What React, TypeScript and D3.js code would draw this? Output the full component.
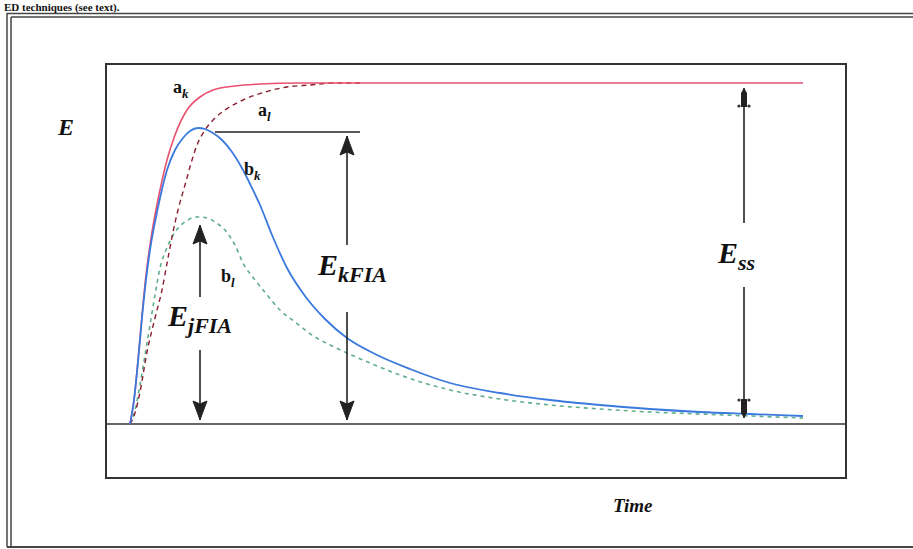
import React from "react";
import * as d3 from "d3";

// time (arbitrary units, 0 = injection) and response E (arbitrary units, Ess = 341)
const akT = [0, 4, 8, 12, 16, 20, 25, 30, 37, 45, 57, 70, 83, 105, 130, 170, 220, 320, 470, 673];
const akE = [0, 24, 64, 109, 149, 179, 209, 234, 264, 289, 314, 327, 334, 338, 340, 341, 341, 341, 341, 341];

const alT = [0, 5, 10, 17, 25, 32, 38, 43, 48, 55, 62, 67, 75, 83, 98, 113, 135, 157, 180, 203, 230];
const alE = [0, 11, 32, 72, 106, 134, 166, 192, 214, 239, 264, 279, 294, 304, 316, 324, 332, 337, 339, 341, 341];

const bkT = [0, 4, 8, 12, 16, 20, 25, 30, 37, 45, 53, 60, 68, 75, 83, 92, 102, 113, 122, 130, 142, 157, 175, 195, 217, 245, 280, 320, 370, 420, 470, 520, 570, 620, 673];
const bkE = [0, 24, 62, 106, 144, 174, 202, 226, 254, 274, 286, 293, 296, 295, 291, 284, 272, 254, 236, 219, 189, 156, 128, 105, 86, 70, 55, 41, 31, 24, 19, 15, 12, 10, 8];

const blT = [0, 5, 10, 15, 20, 25, 30, 36, 42, 50, 58, 65, 70, 77, 85, 95, 105, 113, 125, 138, 150, 165, 182, 200, 217, 240, 270, 320, 370, 420, 470, 520, 570, 620, 673];
const blE = [0, 14, 39, 69, 99, 129, 156, 174, 187, 198, 204, 207, 207, 206, 202, 194, 179, 161, 144, 128, 114, 102, 89, 79, 71, 61, 49, 34, 25, 19, 15, 12, 10, 8, 6];

const E_SS = 341;
const X_DOMAIN = [-24, 716];

const W = 913;
const H = 549;

const x = d3.scaleLinear().domain(X_DOMAIN).range([106, 846]);
const y = d3.scaleLinear().domain([0, E_SS]).range([424, 83]);

const line = d3
  .line<[number, number]>()
  .x((d) => x(d[0]))
  .y((d) => y(d[1]))
  .curve(d3.curveMonotoneX);

const zip = (a: number[], b: number[]) => a.map((v, i) => [v, b[i]] as [number, number]);

const FONT = "'Liberation Serif', 'DejaVu Serif', serif";

function BellHead({ cx, tip, dir }: { cx: number; tip: number; dir: 1 | -1 }) {
  const s = dir === 1 ? 1 : -1;
  const p = (dx: number, dy: number) => `${cx + dx},${tip + s * dy}`;
  const d = `M${p(0, 0)} L${p(-2.5, 7)} L${p(-7, 19)} L${p(0, 16)} L${p(7, 19)} L${p(2.5, 7)} Z`;
  return <path d={d} fill="#222" stroke="#222" strokeWidth={1} />;
}

function NarrowHead({ cx, tip, dir }: { cx: number; tip: number; dir: 1 | -1 }) {
  const s = dir === 1 ? 1 : -1;
  const p = (dx: number, dy: number) => `${cx + dx},${tip + s * dy}`;
  const d = `M${p(0, 0)} L${p(-3, 5)} L${p(-3, 19)} L${p(3, 19)} L${p(3, 5)} Z`;
  return (
    <g>
      <path d={d} fill="#222" />
      <circle cx={cx - 5} cy={tip + s * 18} r={1.6} fill="#333" />
      <circle cx={cx + 5} cy={tip + s * 18} r={1.6} fill="#333" />
    </g>
  );
}

function DoubleArrow({
  t,
  top,
  bottom,
  gapTop,
  gapBottom,
  narrow,
}: {
  t: number;
  top: number;
  bottom: number;
  gapTop: number;
  gapBottom: number;
  narrow?: boolean;
}) {
  const cx = x(t);
  const Head = narrow ? NarrowHead : BellHead;
  return (
    <g>
      <line x1={cx} x2={cx} y1={y(top)} y2={y(gapTop)} stroke="#222" strokeWidth={1.6} />
      <line x1={cx} x2={cx} y1={y(gapBottom)} y2={y(bottom)} stroke="#222" strokeWidth={1.6} />
      <Head cx={cx} tip={y(top)} dir={1} />
      <Head cx={cx} tip={y(bottom)} dir={-1} />
    </g>
  );
}

function SubLabel({
  t,
  e,
  main,
  sub,
  size,
  subSize,
  mainItalic,
  dy,
}: {
  t: number;
  e: number;
  main: string;
  sub: string;
  size: number;
  subSize: number;
  mainItalic: boolean;
  dy: number;
}) {
  return (
    <text x={x(t)} y={y(e)} fontFamily={FONT} fontWeight="bold" fontSize={size} fill="#111">
      <tspan fontStyle={mainItalic ? "italic" : "normal"}>{main}</tspan>
      <tspan fontStyle="italic" fontSize={subSize} dy={dy}>
        {sub}
      </tspan>
    </text>
  );
}

export default function App() {
  const bkPeak = d3.max(bkE) as number;
  const blPeak = d3.max(blE) as number;
  return (
    <svg
      width={W}
      height={H}
      style={{ position: "absolute", left: 0, top: 0, background: "#fff" }}
    >
      <rect x={0} y={0} width={W} height={H} fill="#fff" />
      {/* caption fragment at very top */}
      <text x={4} y={11} fontFamily={FONT} fontWeight="bold" fontSize={11} fill="#111">
        ED techniques (see text).
      </text>
      {/* outer frame */}
      <line x1={7} x2={W} y1={13.5} y2={13.5} stroke="#444" strokeWidth={1.5} />
      <line x1={11} x2={W} y1={17} y2={17} stroke="#444" strokeWidth={1.5} />
      <line x1={7} x2={7} y1={13} y2={547} stroke="#444" strokeWidth={1.5} />
      <line x1={11} x2={11} y1={17} y2={547} stroke="#444" strokeWidth={1.5} />
      <line x1={7} x2={W} y1={547} y2={547} stroke="#444" strokeWidth={2} />

      {/* inner plot box */}
      <rect x={106} y={64} width={740} height={414} fill="none" stroke="#333" strokeWidth={2} />
      <line x1={106} x2={846} y1={y(0)} y2={y(0)} stroke="#333" strokeWidth={1.6} />

      {/* curves */}
      <path d={line(zip(blT, blE)) || ""} fill="none" stroke="#5faf8c" strokeWidth={1.6} strokeDasharray="4,4" />
      <path d={line(zip(alT, alE)) || ""} fill="none" stroke="#8a1e30" strokeWidth={1.4} strokeDasharray="5,4" />
      <path d={line(zip(akT, akE)) || ""} fill="none" stroke="#e8506e" strokeWidth={1.6} />
      <path d={line(zip(bkT, bkE)) || ""} fill="none" stroke="#3a7ade" strokeWidth={1.8} />

      {/* peak reference line */}
      <line x1={x(85)} x2={x(230)} y1={y(bkPeak - 4)} y2={y(bkPeak - 4)} stroke="#222" strokeWidth={1.5} />

      {/* arrows */}
      <DoubleArrow t={217} top={bkPeak - 8} bottom={4} gapTop={179} gapBottom={112} />
      <DoubleArrow t={70} top={blPeak - 8} bottom={4} gapTop={127} gapBottom={74} />
      <DoubleArrow t={614} top={E_SS - 5} bottom={6} gapTop={201} gapBottom={137} narrow />

      {/* curve labels */}
      <SubLabel t={43} e={331} main="a" sub="k" size={18} subSize={13} mainItalic={false} dy={5} />
      <SubLabel t={128} e={308} main="a" sub="l" size={18} subSize={13} mainItalic={false} dy={5} />
      <SubLabel t={114} e={249} main="b" sub="k" size={18} subSize={13} mainItalic={false} dy={5} />
      <SubLabel t={91} e={142} main="b" sub="l" size={18} subSize={13} mainItalic={false} dy={5} />

      {/* quantity labels */}
      <SubLabel t={188} e={149} main="E" sub="kFIA" size={30} subSize={22} mainItalic={true} dy={7} />
      <SubLabel t={38} e={98} main="E" sub="jFIA" size={30} subSize={22} mainItalic={true} dy={7} />
      <SubLabel t={588} e={161} main="E" sub="ss" size={30} subSize={22} mainItalic={true} dy={7} />

      {/* axis labels */}
      <text x={58} y={135} fontFamily={FONT} fontWeight="bold" fontStyle="italic" fontSize={24} fill="#111">
        E
      </text>
      <text x={613} y={512} fontFamily={FONT} fontWeight="bold" fontStyle="italic" fontSize={19} fill="#111">
        Time
      </text>
    </svg>
  );
}
